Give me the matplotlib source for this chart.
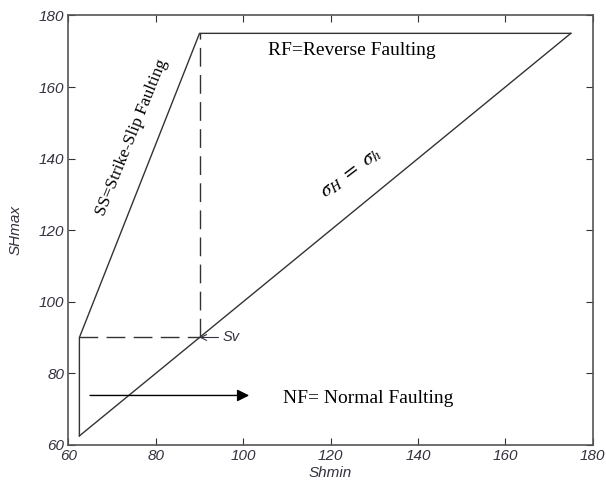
import matplotlib
matplotlib.use('Agg')
import matplotlib.pyplot as plt

# regime boundaries (Shmin, SHmax)
diag_x = [62.5, 175]
diag_y = [62.5, 175]
ss_x = [62.5, 62.5, 90, 175]
ss_y = [62.5, 90, 175, 175]
sv_h_x = [62.5, 90]
sv_h_y = [90, 90]
sv_v_x = [90, 90]
sv_v_y = [90, 175]
nf_arrow_x = [64.3, 102]
nf_arrow_y = [73.8, 73.8]
sv_point = (90, 90)
ticks = [60, 80, 100, 120, 140, 160, 180]

line_col = '#333333'
text_col = '#33333f'


def main():
    fig = plt.figure(figsize=(6.06, 4.83), dpi=100)
    ax = fig.add_axes([0.113, 0.079, 0.865, 0.889])

    ax.plot(diag_x, diag_y, color=line_col, lw=1.0)
    ax.plot(ss_x, ss_y, color=line_col, lw=1.0)
    ax.plot(sv_h_x, sv_h_y, color=line_col, lw=1.0, dashes=(13.5, 6))
    ax.plot(sv_v_x, sv_v_y, color=line_col, lw=1.0, dashes=(13.5, 6))

    ax.annotate('', xy=(nf_arrow_x[1], nf_arrow_y[1]), xytext=(nf_arrow_x[0], nf_arrow_y[0]),
                arrowprops=dict(arrowstyle='-|>', color='black', lw=1.0, mutation_scale=18))
    ax.annotate('Sv', xy=sv_point, xytext=(95.3, 90), color=text_col, fontsize=10.5,
                style='italic', family='Liberation Sans', va='center',
                arrowprops=dict(arrowstyle='->', color=text_col, lw=0.8, shrinkA=1, shrinkB=0))

    serif = 'Liberation Serif'
    ax.text(109, 73.0, 'NF= Normal Faulting', family=serif, fontsize=14, va='center')
    ax.text(105.7, 170.3, 'RF=Reverse Faulting', family=serif, fontsize=14, va='center')
    ax.text(74.5, 146, 'SS=Strike-Slip Faulting', family=serif, fontsize=12.5,
            rotation=68, ha='center', va='center')
    ax.text(124.5, 136, r'$\sigma_H\ =\ \sigma_h$', fontsize=15, rotation=37,
            ha='center', va='center', math_fontfamily='stix')

    ax.set_xlim(60, 180)
    ax.set_ylim(60, 180)
    ax.set_xticks(ticks)
    ax.set_yticks(ticks)
    ax.tick_params(direction='in', top=True, right=True, length=5, width=0.8,
                   colors=line_col, labelcolor=text_col, labelsize=11, pad=3)
    for lab in ax.get_xticklabels() + ax.get_yticklabels():
        lab.set_style('italic')
        lab.set_family('Liberation Sans')
    for sp in ax.spines.values():
        sp.set_color('#555555')
        sp.set_linewidth(1.2)

    ax.set_xlabel('Shmin', style='italic', family='Liberation Sans', fontsize=11,
                  color=text_col, labelpad=2)
    ax.set_ylabel('SHmax', style='italic', family='Liberation Sans', fontsize=11,
                  color=text_col, labelpad=12)

    plt.savefig('out.png', dpi=100)


if __name__ == '__main__':
    main()
